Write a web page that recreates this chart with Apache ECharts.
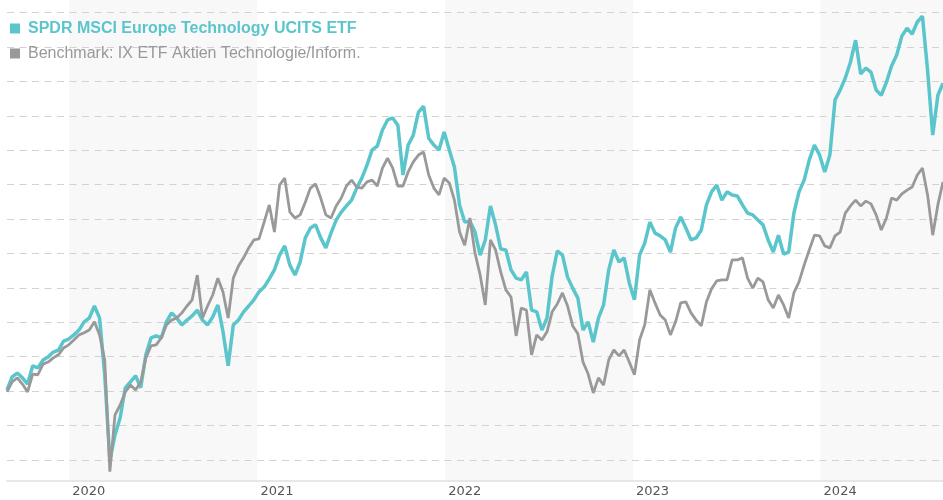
<!DOCTYPE html>
<html>
<head>
<meta charset="utf-8">
<script src="https://cdn.jsdelivr.net/npm/echarts@6/dist/echarts.min.js"></script>
<style>
  html, body { margin: 0; padding: 0; background: #fff; }
  #chart { width: 943px; height: 500px; }
</style>
</head>
<body>
<div id="chart"></div>
<script>
// one point every 10 days, starting 2 Sep 2019
var startDate = '2019-09-02';
var stepDays = 10;

var fundName = 'SPDR MSCI Europe Technology UCITS ETF';
var benchName = 'Benchmark: IX ETF Aktien Technologie/Inform.';

// indexed performance, start = 100
var fundValues = [
  100.3,104.1,105.2,103.8,102.0,107.3,106.7,109.0,109.9,111.3,
  111.9,114.5,115.1,116.3,117.7,120.1,121.2,124.7,121.2,104.7,
  79.9,87.2,92.2,100.9,102.6,104.4,100.9,110.5,115.4,116.0,
  115.4,120.1,122.7,121.2,119.2,120.6,121.8,123.5,120.6,119.2,
  121.5,125.0,117.2,107.3,119.2,120.6,123.0,124.7,126.5,128.8,
  130.2,132.6,135.2,139.5,142.2,136.6,133.7,137.5,144.5,147.4,
  148.3,144.5,141.6,145.9,149.7,152.0,153.8,155.5,159.0,161.9,
  165.7,170.1,171.2,175.9,178.8,179.4,177.3,162.8,171.5,174.4,
  181.1,182.8,173.5,171.5,170.1,175.3,170.1,165.1,154.1,149.1,
  149.4,146.2,139.5,143.9,153.8,148.3,141.3,141.0,135.2,132.8,
  132.3,134.6,123.5,123.0,117.7,121.2,133.4,140.7,139.5,133.1,
  129.9,127.0,117.7,120.1,114.2,121.2,125.0,135.2,141.0,137.5,
  138.7,131.4,126.5,139.5,143.0,149.1,145.9,145.1,143.9,140.4,
  147.4,150.6,147.4,143.9,144.5,146.8,154.1,157.9,159.9,155.5,
  157.9,157.0,156.7,154.1,151.7,151.2,149.7,148.3,143.9,140.4,
  145.3,139.8,140.4,151.7,157.9,161.3,167.2,171.5,168.6,163.7,
  168.6,184.6,187.5,191.0,195.6,202.0,192.2,193.9,192.7,187.5,
  186.0,189.8,194.5,197.7,203.2,205.5,203.8,207.3,209.0,193.3,
  174.4,186.0,189.5
];

var benchValues = [
  99.7,102.6,103.8,102.0,99.7,104.9,104.7,107.8,108.4,109.6,
  110.5,112.5,113.4,114.8,116.3,116.9,117.7,120.1,116.3,109.0,
  76.5,93.0,95.9,99.7,101.7,100.3,102.6,109.6,113.1,113.4,
  115.4,119.2,120.6,121.2,122.7,124.7,126.5,133.7,121.2,124.7,
  127.9,132.8,128.8,121.2,132.8,136.3,138.7,141.6,143.9,144.2,
  149.1,154.1,146.2,159.9,161.9,152.0,150.3,151.2,154.9,159.0,
  160.2,156.1,151.2,150.3,153.8,156.1,159.6,161.3,159.3,159.0,
  160.8,161.3,159.6,164.8,167.7,164.8,159.6,159.6,163.7,166.6,
  168.6,169.5,162.8,159.0,157.0,161.9,160.5,155.5,146.2,142.4,
  150.3,140.1,133.7,125.0,143.9,141.0,134.6,129.4,127.3,116.0,
  124.1,123.5,110.5,116.3,114.8,117.2,123.0,125.3,128.5,124.7,
  118.9,116.6,108.4,104.9,99.4,103.8,101.7,109.0,111.9,110.2,
  111.9,108.4,104.7,114.8,119.2,129.4,125.6,122.1,120.6,116.3,
  120.1,125.6,125.9,122.7,120.6,118.9,125.9,129.7,132.0,132.3,
  132.3,138.1,138.1,138.7,132.8,129.9,132.8,131.7,126.5,124.1,
  127.9,125.0,121.2,128.5,131.7,136.6,141.0,145.3,145.1,142.2,
  141.6,145.1,146.2,151.7,153.8,155.5,153.8,155.2,154.4,151.2,
  146.8,150.3,156.1,155.5,157.3,158.4,159.3,162.8,164.8,157.0,
  145.3,154.1,160.8
];

var fundColor = '#5bc5cc';
var benchColor = '#999999';

function toSeries(values) {
  var t0 = Date.parse(startDate);
  return values.map(function (v, i) {
    return [t0 + i * stepDays * 86400000, v];
  });
}

var myChart = echarts.init(document.getElementById('chart'), null, { renderer: 'canvas' });

myChart.setOption({
  animation: false,
  backgroundColor: '#fff',
  legend: {
    orient: 'vertical',
    left: 10,
    top: 19.5,
    padding: 0,
    itemGap: 7,
    itemWidth: 10,
    itemHeight: 10,
    icon: 'rect',
    selectedMode: false,
    textStyle: { fontFamily: 'Liberation Sans', fontSize: 16, lineHeight: 18, padding: [0, 0, 0, 3] },
    data: [
      { name: fundName, textStyle: { color: fundColor, fontWeight: 'bold' } },
      { name: benchName, textStyle: { color: benchColor } }
    ]
  },
  grid: [
    { left: 7, right: 0, top: 0, bottom: 19 },
    { left: 7, right: 0, top: 12.6, bottom: 40.2 }
  ],
  xAxis: [{
    type: 'time',
    gridIndex: 0,
    min: 'dataMin',
    max: 'dataMax',
    minInterval: 365 * 86400000,
    z: 0,
    axisLine: { show: true, lineStyle: { color: '#e0e0e0', width: 1.5 } },
    axisTick: { show: false },
    splitLine: { show: false },
    splitArea: { show: true, areaStyle: { color: ['#ffffff', '#f8f8f8'] } },
    axisLabel: {
      align: 'left',
      margin: 4,
      padding: [0, 0, 0, 3],
      color: '#555',
      fontFamily: 'DejaVu Sans',
      fontSize: 13,
      showMinLabel: false,
      showMaxLabel: false,
      formatter: function (value) {
        var d = new Date(value);
        return (d.getMonth() === 0 && d.getDate() === 1) ? String(d.getFullYear()) : '';
      }
    }
  }, {
    type: 'value',
    gridIndex: 1,
    show: false
  }],
  yAxis: [{
    type: 'value',
    gridIndex: 0,
    min: 73.8,
    max: 213.7,
    show: false,
    splitLine: { show: false }
  }, {
    type: 'value',
    gridIndex: 1,
    min: 80,
    max: 210,
    interval: 10,
    z: 1,
    axisLine: { show: false },
    axisTick: { show: false },
    axisLabel: { show: false },
    splitLine: { show: true, lineStyle: { color: '#d2d2d2', width: 1.2, type: [7, 5.5] } }
  }],
  series: [{
    name: fundName,
    type: 'line',
    xAxisIndex: 0,
    yAxisIndex: 0,
    showSymbol: false,
    color: fundColor,
    lineStyle: { width: 3.5, color: fundColor },
    data: toSeries(fundValues)
  }, {
    name: benchName,
    type: 'line',
    xAxisIndex: 0,
    yAxisIndex: 0,
    showSymbol: false,
    color: benchColor,
    lineStyle: { width: 2.8, color: benchColor },
    data: toSeries(benchValues)
  }]
});
</script>
</body>
</html>
